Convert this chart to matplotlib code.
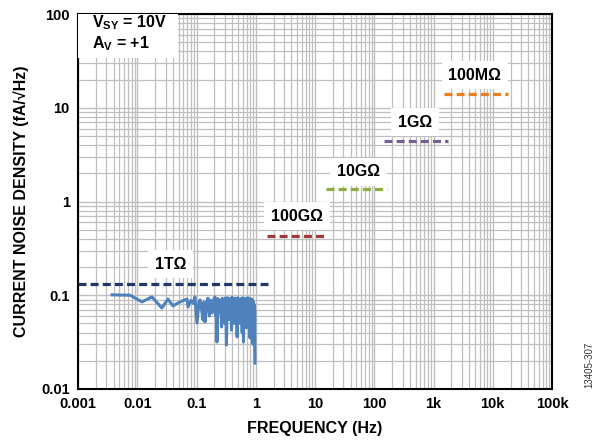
import numpy as np
import matplotlib
matplotlib.use('Agg')
import matplotlib.pyplot as plt
from matplotlib.patches import Rectangle
from matplotlib.ticker import FixedLocator, LogLocator, NullFormatter

plt.rcParams['font.family'] = ['Liberation Sans', 'DejaVu Sans']
plt.rcParams['mathtext.fontset'] = 'custom'
plt.rcParams['mathtext.rm'] = 'Liberation Sans:bold'
plt.rcParams['mathtext.it'] = 'Liberation Sans:bold'
plt.rcParams['mathtext.bf'] = 'Liberation Sans:bold'

# measured current noise density (fA/rtHz) vs frequency (Hz)
meas_freq = [0.00375, 0.0076, 0.012, 0.0177, 0.026, 0.033, 0.040, 0.053, 0.069, 0.072,
             0.080, 0.088, 0.094, 0.102, 0.110, 0.115, 0.122, 0.129, 0.134, 0.139,
             0.148, 0.156, 0.165, 0.175, 0.183, 0.195, 0.205, 0.210, 0.215, 0.222,
             0.23, 0.24, 0.25, 0.258, 0.265, 0.272, 0.28, 0.29, 0.30, 0.31,
             0.32, 0.33, 0.34, 0.35, 0.36, 0.37, 0.38, 0.39, 0.40, 0.41,
             0.42, 0.435, 0.45, 0.46, 0.47, 0.485, 0.50, 0.515, 0.53, 0.545,
             0.56, 0.575, 0.59, 0.605, 0.62, 0.64, 0.66, 0.68, 0.70, 0.72,
             0.74, 0.755, 0.77, 0.785, 0.80, 0.815, 0.83, 0.845, 0.86, 0.88,
             0.90, 0.915, 0.93, 0.94, 0.95, 0.96, 0.97]
meas_nd = [0.101, 0.100, 0.085, 0.096, 0.073, 0.091, 0.077, 0.085, 0.091, 0.075,
           0.088, 0.082, 0.096, 0.0506, 0.085, 0.089, 0.070, 0.0545, 0.085, 0.0519,
           0.080, 0.093, 0.060, 0.088, 0.0647, 0.090, 0.096, 0.060, 0.085, 0.0317,
           0.092, 0.065, 0.088, 0.075, 0.0459, 0.093, 0.060, 0.090, 0.050, 0.094,
           0.0294, 0.088, 0.094, 0.055, 0.090, 0.070, 0.093, 0.0425, 0.095, 0.060,
           0.090, 0.050, 0.093, 0.070, 0.091, 0.0359, 0.094, 0.065, 0.090, 0.050,
           0.092, 0.075, 0.040, 0.094, 0.0317, 0.090, 0.060, 0.093, 0.045, 0.088,
           0.094, 0.050, 0.090, 0.070, 0.035, 0.092, 0.060, 0.089, 0.045, 0.090,
           0.030, 0.085, 0.060, 0.080, 0.040, 0.070, 0.0189]

# theoretical resistor current noise levels
res_labels = ['1T\u03a9', '100G\u03a9', '10G\u03a9', '1G\u03a9', '100M\u03a9']
res_level = [0.133, 0.43, 1.36, 4.4, 14.0]
res_fstart = [0.001, 1.55, 15.5, 146, 1500]
res_fstop = [1.6, 15.9, 164, 1760, 18000]
res_colors = ['#1f3864', '#a0393a', '#8fac3e', '#7a5e91', '#ee7d1e']
label_f = [0.037, 5.0, 55, 490, 5000]
label_v = [0.215, 0.70, 2.07, 7.05, 22.4]

xticks = [0.001, 0.01, 0.1, 1, 10, 100, 1e3, 1e4, 1e5]
xticklabels = ['0.001', '0.01', '0.1', '1', '10', '100', '1k', '10k', '100k']
yticks = [0.01, 0.1, 1, 10, 100]
yticklabels = ['0.01', '0.1', '1', '10', '100']

fig = plt.figure(figsize=(6.0, 4.41), dpi=100)
ax = fig.add_axes([0.13, 0.118, 0.79, 0.850])
ax.set_xscale('log')
ax.set_yscale('log')
ax.set_xlim(1e-3, 1e5)
ax.set_ylim(0.01, 100)

ax.xaxis.set_major_locator(FixedLocator(xticks))
ax.yaxis.set_major_locator(FixedLocator(yticks))
ax.xaxis.set_minor_locator(LogLocator(base=10, subs=np.arange(2, 10), numticks=20))
ax.yaxis.set_minor_locator(LogLocator(base=10, subs=np.arange(2, 10), numticks=20))
ax.xaxis.set_minor_formatter(NullFormatter())
ax.yaxis.set_minor_formatter(NullFormatter())
ax.set_xticklabels(xticklabels, fontsize=10.5, fontweight='bold')
ax.set_yticklabels(yticklabels, fontsize=10.5, fontweight='bold')
ax.tick_params(which='both', length=0, pad=6)

ax.grid(which='major', color='#bfbfbf', linewidth=1.0)
ax.grid(which='minor', color='#bfbfbf', linewidth=0.9)
ax.set_axisbelow(True)
for s in ax.spines.values():
    s.set_linewidth(1.5)
    s.set_color('black')

for lab, lv, f0, f1, c, lf, lvv in zip(res_labels, res_level, res_fstart, res_fstop,
                                       res_colors, label_f, label_v):
    ax.plot([f0, f1], [lv, lv], color=c, linewidth=2.3, dashes=(2.5, 1.3), zorder=3)
    ax.text(lf, lvv, lab, fontsize=11.5, fontweight='bold', ha='center', va='center',
            bbox=dict(facecolor='white', edgecolor='none', pad=5), zorder=4)

ax.plot(meas_freq, meas_nd, color='#4f81bd', linewidth=2.2, zorder=3)

# condition box, top left
ax.add_patch(Rectangle((0, 0.883), 0.211, 0.117, transform=ax.transAxes,
                       facecolor='white', edgecolor='none', zorder=4))
ax.text(0.03, 0.976, 'V$_{SY}$ = 10V', transform=ax.transAxes, fontsize=11.5,
        fontweight='bold', ha='left', va='center', zorder=5)
ax.text(0.03, 0.922, 'A$_{V}$ = +1', transform=ax.transAxes, fontsize=11.5,
        fontweight='bold', ha='left', va='center', zorder=5)

ax.set_xlabel('FREQUENCY (Hz)', fontsize=11.5, fontweight='bold', labelpad=7)
ax.set_ylabel('CURRENT NOISE DENSITY (fA/\u221aHz)', fontsize=11.5, fontweight='bold', labelpad=9)

fig.text(0.982, 0.12, '13405-307', rotation=90, fontsize=7, ha='center', va='bottom', color='#333333')

fig.savefig('out.png', dpi=100)
